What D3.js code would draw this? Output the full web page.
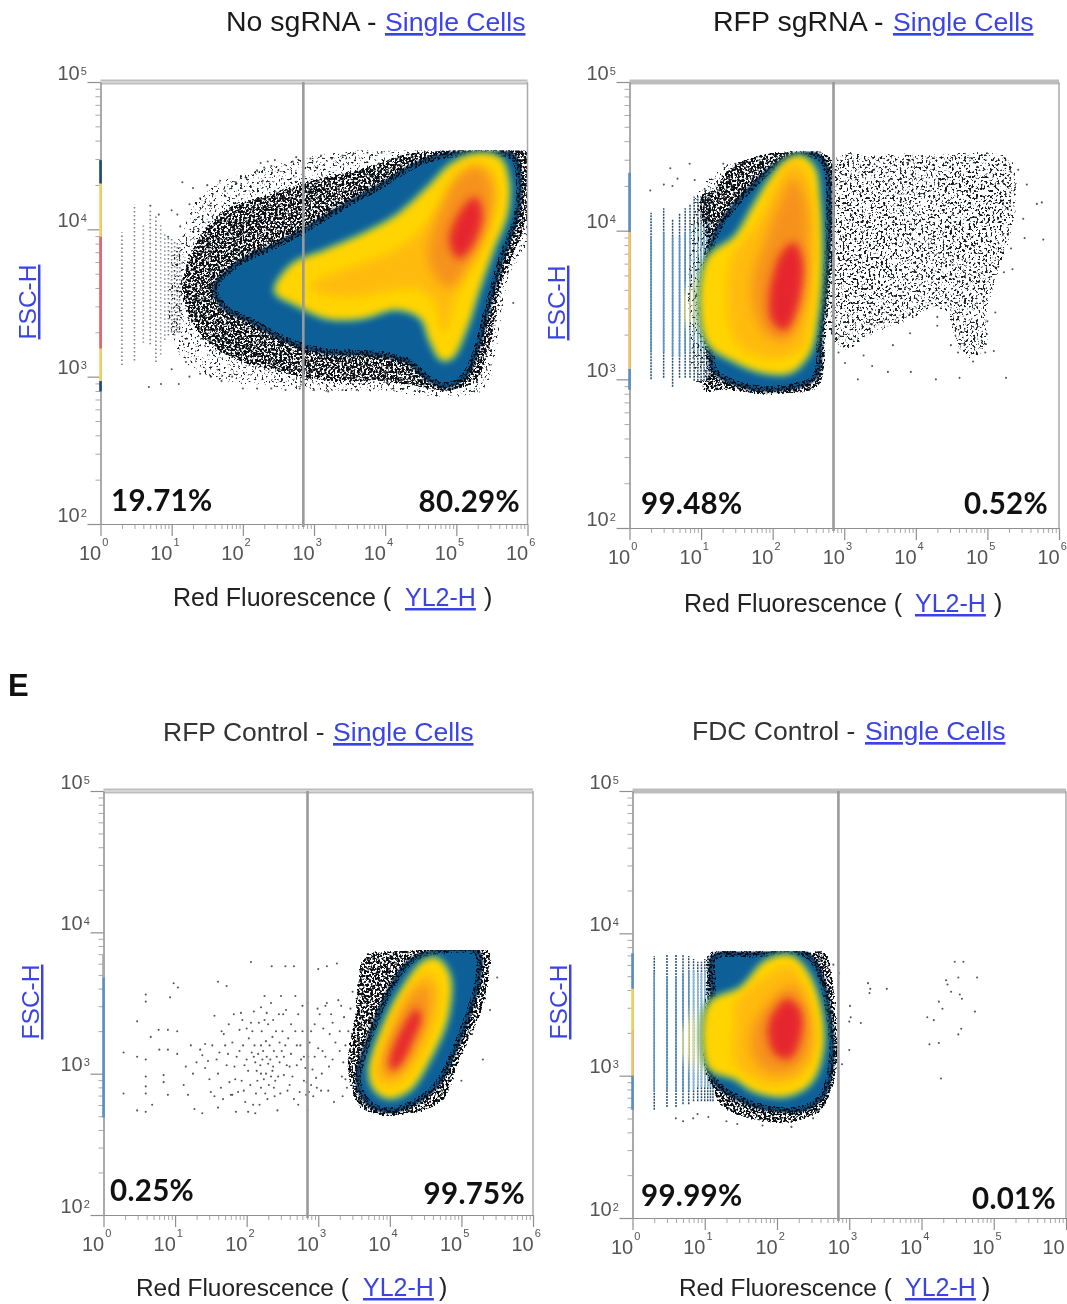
<!DOCTYPE html>
<html>
<head>
<meta charset="utf-8">
<script src="https://cdn.jsdelivr.net/npm/d3@7"></script>
<style>
html, body { margin: 0; padding: 0; background: #fff; }
svg { display: block; filter: blur(0.45px); }
text { font-family: "Liberation Sans", Arial, sans-serif; }
.pct { font-family: Lato, "Open Sans", sans-serif; font-weight: 700; font-size: 29.5px; fill: #111; letter-spacing: 0.3px; }
.link { fill: #3a44e6; text-decoration: underline; }
</style>
</head>
<body>
<svg id="chart" width="1067" height="1304"></svg>
<script>
// all cloud outlines and dots are [log10 YL2-H, log10 FSC-H]

var majorX = [0, 1, 2, 3, 4, 5, 6];
var majorY = [2, 3, 4, 5];
var gateLog = 2.85;
var ceilingLog = [4.535, 4.535, 3.875, 3.875];

// No sgRNA
var haloA = [[0.95,3.55],[1.1,3.98],[1.5,4.27],[2.3,4.42],[3.0,4.5],[3.7,4.55],[4.3,4.56],[6,4.56],[6,3.9],[5.75,3.7],[5.6,3.3],[5.4,2.9],[4.9,2.86],[3.9,2.9],[3.0,2.9],[2.3,2.94],[1.5,3.0],[1.05,3.18]];
var fringeA = [[1.15,3.57],[1.30,3.87],[1.69,4.11],[2.46,4.25],[2.95,4.33],[3.67,4.41],[4.30,4.51],[4.84,4.53],[6.0,4.53],[6.0,4.09],[5.81,3.84],[5.61,3.60],[5.47,3.21],[5.27,2.97],[4.89,2.91],[4.5,2.93],[3.92,2.97],[3.19,2.97],[2.46,3.04],[1.74,3.15],[1.35,3.32]];
var navyA = [[1.59,3.60],[1.88,3.76],[2.46,3.90],[2.85,4.0],[3.43,4.17],[3.92,4.30],[4.40,4.44],[4.84,4.51],[5.37,4.52],[5.81,4.5],[5.9,4.33],[5.86,4.09],[5.66,3.81],[5.47,3.49],[5.32,3.21],[5.13,3.0],[4.84,2.93],[4.6,2.98],[4.3,3.1],[3.82,3.15],[3.19,3.16],[2.61,3.24],[2.07,3.38],[1.74,3.46]];
var yellowA = [[2.46,3.58],[2.70,3.76],[3.14,3.85],[3.67,3.96],[4.16,4.09],[4.6,4.28],[4.93,4.44],[5.27,4.51],[5.61,4.48],[5.73,4.33],[5.71,4.11],[5.52,3.87],[5.32,3.6],[5.13,3.32],[4.93,3.13],[4.79,3.12],[4.64,3.24],[4.5,3.4],[4.16,3.46],[3.67,3.4],[3.19,3.4],[2.75,3.49]];
var amberA = [[2.95,3.61],[3.43,3.73],[3.92,3.81],[4.4,3.95],[4.84,4.2],[5.18,4.41],[5.47,4.41],[5.56,4.25],[5.37,3.92],[5.03,3.6],[4.89,3.38],[4.81,3.3],[4.69,3.51],[4.4,3.6],[3.92,3.57],[3.43,3.54]];
var orangeA = [[4.6,3.85],[4.75,4.1],[5.0,4.35],[5.3,4.43],[5.5,4.28],[5.42,4.0],[5.12,3.72],[4.9,3.6],[4.68,3.7]];
var redA = [[4.9,3.92],[5.05,4.12],[5.27,4.22],[5.37,4.1],[5.22,3.88],[5.03,3.8]];
var dotsA = [[1.08,4.1],[1.25,4.17],[1.4,4.21],[1.55,4.16],[1.68,4.33],[1.75,4.26],[1.9,4.32],[2.05,4.35],[2.2,4.4],[2.28,4.33],[2.3,4.42],[2.4,4.43],[2.5,4.4],[2.45,4.47],[2.35,4.46],[2.25,4.45],[2.7,4.46],[2.75,4.49],[2.95,4.48],[3.1,4.5],[3.25,4.48],[3.4,4.5],[3.55,4.51],[3.75,4.52],[3.95,4.52],[0.95,3.95],[1.12,4.02],[1.0,4.13],[0.82,4.1],[0.7,4.16],[1.3,4.28],[1.5,4.3],[1.15,4.32],[0.68,2.93],[0.85,2.95],[1.1,2.95],[1.25,3.0],[1.4,3.02],[1.55,3.0],[1.7,2.97],[1.85,3.0],[2.0,2.92],[2.2,2.92],[2.4,2.92],[2.6,2.91],[2.8,2.92],[3.0,2.91],[3.2,2.9],[3.4,2.91],[3.6,2.91],[1.2,3.1],[1.0,3.05],[5.8,3.5],[5.55,3.38],[5.62,3.75]];
var columnsA = [[2,3.08,3.98],[3,3.11,4.17],[4,3.23,4.03],[5,3.22,4.14],[6,3.1,4.09],[7,3.15,4.03],[8,3.25,3.98],[9,3.28,3.95],[10,3.3,3.95],[11,3.28,3.93],[12,3.3,3.92],[13,3.3,3.9]];
var edgeA = [[4.31,4.47,"dark"],[3.95,4.31,"yellow"],[3.19,3.95,"red"],[2.97,3.19,"yellow"],[2.9,2.97,"dark"]];

// RFP sgRNA
var haloB = [[0.95,4.28],[1.2,4.4],[1.6,4.5],[1.6,4.2],[1.2,3.9],[1.2,3.0],[0.95,2.93]];
var fringeB = [[1.0,4.25],[1.17,4.26],[1.39,4.42],[1.86,4.51],[2.34,4.53],[2.82,4.49],[2.86,4.34],[2.82,4.04],[2.77,3.66],[2.72,3.26],[2.63,2.95],[1.96,2.91],[1.29,2.93],[1.0,2.92],[1.17,3.1],[1.17,3.7]];
var navyB = [[1.12,3.88],[1.29,4.07],[1.58,4.24],[1.96,4.42],[2.29,4.51],[2.63,4.51],[2.77,4.42],[2.8,4.04],[2.75,3.66],[2.68,3.31],[2.6,3.01],[2.1,2.93],[1.58,2.95],[1.18,3.05],[1.12,3.18]];
var yellowB = [[1.08,3.8],[1.48,3.96],[1.72,4.15],[1.96,4.34],[2.2,4.47],[2.39,4.5],[2.58,4.42],[2.65,4.2],[2.68,3.8],[2.63,3.45],[2.51,3.18],[2.25,3.05],[1.86,3.05],[1.48,3.12],[1.08,3.26]];
var amberB = [[1.43,3.82],[1.77,4.04],[2.01,4.28],[2.25,4.45],[2.44,4.42],[2.56,4.2],[2.58,3.8],[2.53,3.45],[2.39,3.2],[2.06,3.14],[1.67,3.18],[1.43,3.31]];
var orangeB = [[1.72,3.66],[1.91,3.96],[2.1,4.2],[2.29,4.36],[2.46,4.2],[2.49,3.82],[2.39,3.45],[2.2,3.26],[1.96,3.28],[1.77,3.42]];
var redB = [[1.95,3.55],[2.12,3.85],[2.3,3.92],[2.42,3.8],[2.36,3.5],[2.18,3.33],[2.0,3.38]];
var cloudB = [[2.84,4.5],[3.39,4.51],[4.35,4.51],[5.31,4.5],[5.4,4.2],[5.31,3.93],[5.11,3.66],[4.97,3.42],[5.02,3.23],[4.73,3.12],[4.54,3.26],[4.4,3.5],[3.87,3.39],[3.39,3.31],[2.92,3.18]];
var clusterB1 = [[4.4,4.42],[5.1,4.35],[5.25,4.1],[5.1,3.85],[4.6,3.8],[4.3,4.05]];
var clusterB2 = [[2.9,4.3],[3.6,4.2],[3.8,3.85],[3.45,3.5],[3.1,3.38],[2.9,3.5]];
var dotsB = [[3.19,3.0],[3.61,3.05],[3.93,3.05],[4.28,3.0],[4.61,3.01],[5.26,3.01],[4.8,3.12],[4.97,3.18],[5.09,3.19],[4.59,3.18],[4.68,3.23],[4.49,3.23],[4.3,3.36],[4.3,3.42],[3.92,3.31],[3.68,3.23],[3.39,3.09],[3.27,3.16],[3.01,3.11],[2.92,3.18],[5.55,4.31],[5.69,4.18],[5.76,4.19],[5.78,3.94],[5.5,4.08],[5.52,3.95],[5.43,4.41],[5.33,3.88],[5.35,3.74],[5.23,3.72],[5.11,3.45],[5.0,3.39],[0.57,4.42],[0.84,4.45],[0.29,4.27],[0.48,4.31],[0.6,4.3],[0.67,4.35],[0.91,4.34],[1.05,4.28],[1.31,4.45],[1.48,4.45]];
var columnsB = [[2,3.0,4.12,3.18,3.96],[3,3.01,4.15,3.18,3.99],[4,2.95,4.08,3.15,3.96],[5,3.01,4.12,3.15,3.96],[6,3.01,4.15,3.18,3.99,3.31,3.66],[7,3.01,4.18,3.18,4.0,3.31,3.7],[8,2.99,4.23,3.18,4.04,3.28,3.77],[9,2.99,4.23,3.18,4.04,3.28,3.77],[10,2.99,4.23,3.18,4.04,3.28,3.77],[11,2.99,4.23,3.18,4.04,3.28,3.77],[12,2.99,4.23,3.18,4.04,3.28,3.77],[13,2.99,4.23,3.18,4.04,3.28,3.77]];
var edgeB = [[3.99,4.39,"blue"],[3.07,3.99,"amber"],[2.93,3.07,"blue"]];

// RFP Control
var fringeC = [[3.65,3.84],[3.99,3.86],[4.56,3.88],[5.38,3.87],[5.38,3.69],[5.29,3.46],[4.95,3.08],[4.76,2.82],[4.42,2.73],[3.99,2.71],[3.605,2.75],[3.46,2.91],[3.41,3.11],[3.51,3.37],[3.55,3.6]];
var navyC = [[3.55,3.02],[3.7,3.26],[3.94,3.55],[4.23,3.78],[4.52,3.86],[5.24,3.86],[5.26,3.69],[5.14,3.46],[4.9,3.14],[4.66,2.91],[4.32,2.78],[3.99,2.73],[3.7,2.78],[3.55,2.91]];
var yellowC = [[3.72,3.02],[3.89,3.31],[4.18,3.6],[4.47,3.79],[4.66,3.81],[4.83,3.69],[4.8,3.4],[4.56,3.11],[4.28,2.89],[3.99,2.83],[3.79,2.89]];
var amberC = [[3.79,3.02],[3.99,3.31],[4.23,3.57],[4.52,3.72],[4.68,3.63],[4.66,3.43],[4.44,3.14],[4.18,2.95],[3.94,2.91],[3.82,2.95]];
var orangeC = [[3.91,3.08],[4.08,3.34],[4.32,3.57],[4.52,3.63],[4.56,3.49],[4.44,3.28],[4.23,3.08],[4.03,2.98],[3.92,3.0]];
var redC = [[3.99,3.08],[4.16,3.31],[4.37,3.46],[4.44,3.4],[4.32,3.23],[4.16,3.07],[4.03,3.02]];
var dotsC = [[0.59,3.56],[0.59,3.51],[0.47,3.37],[0.28,3.15],[0.47,3.12],[0.59,3.1],[0.28,2.86],[0.59,2.98],[0.59,2.91],[0.59,2.86],[0.47,2.74],[0.59,2.73],[0.68,2.78],[0.84,2.99],[0.84,2.94],[0.9,2.85],[0.66,3.26],[0.77,3.31],[0.93,3.54],[0.98,3.64],[1.04,3.61],[0.9,3.31],[1.03,3.3],[0.78,3.17],[0.9,3.17],[1.03,3.14],
[1.12,2.92],[1.18,2.85],[1.25,3.0],[1.3,3.08],[1.22,3.2],[1.15,3.05],[1.27,2.75],[1.38,2.72],[1.42,3.21],[1.38,3.13],[1.42,3.04],[1.48,2.96],[1.5,2.87],[1.55,2.84],[1.6,2.76],[1.62,3.15],[1.65,3.3],[1.55,3.41],[1.6,3.65],[1.72,3.62],[1.68,3.28],[1.7,3.2],[1.72,3.06],[1.76,2.94],[1.8,2.85],[1.85,2.73],[1.78,2.85],[1.86,3.12],[1.9,3.31],[1.82,3.42],[1.92,3.43],[2.0,3.32],[1.95,3.2],[1.97,3.06],[1.93,2.95],[1.98,2.8],[2.02,2.73],[2.06,3.79],[2.06,3.36],[2.1,3.44],[2.07,3.15],[2.1,3.12],[2.12,3.08],[2.14,3.02],[2.15,2.95],[2.13,2.86],[2.12,2.72],[2.18,2.78],[2.2,2.9],[2.2,3.0],[2.22,3.1],[2.2,3.2],[2.21,3.3],[2.2,3.47],[2.25,3.55],[2.28,3.43],[2.3,3.35],[2.27,3.23],[2.3,3.07],[2.27,3.0],[2.31,2.92],[2.29,2.82],[2.35,3.76],[2.34,3.5],[2.37,3.38],[2.36,3.26],[2.38,3.16],[2.36,3.02],[2.4,2.95],[2.39,2.84],[2.43,2.74],[2.46,3.08],[2.46,3.22],[2.45,3.42],[2.48,3.55],[2.5,3.3],[2.52,3.12],[2.52,2.99],[2.54,3.76],[2.55,3.45],[2.58,3.25],[2.6,3.05],[2.6,2.92],[2.62,3.35],[2.66,3.76],[2.68,3.55],[2.7,3.2],[2.7,3.06],[2.72,2.78],[2.74,2.87],[2.78,3.48],[2.78,3.3],[2.76,3.1],[2.8,2.95],[2.83,2.85],[2.86,3.12],[2.88,3.22],[2.85,3.5],[2.85,2.74],[2.9,2.92],[2.92,3.03],[2.95,3.35],[2.98,2.9],[3.0,3.74],[3.0,3.18],[3.02,3.42],[3.04,2.88],[3.07,3.32],[3.1,3.12],[3.12,3.76],[3.12,3.5],[3.14,2.88],[3.16,3.28],[3.18,3.42],[3.2,3.1],[3.22,2.8],[3.26,3.78],[3.28,3.52],[3.3,3.16],[3.33,2.98],[3.36,3.4],[3.38,3.2],[3.4,2.9],[5.0,2.95],[5.15,3.28],[5.3,3.1],[5.4,3.45],[5.5,3.68],
[1.35,3.17],[1.46,3.09],[1.52,3.2],[1.58,3.1],[1.6,3.0],[1.64,2.9],[1.67,2.82],[1.74,3.14],[1.75,3.35],[1.8,3.22],[1.83,3.05],[1.84,2.96],[1.88,2.87],[1.9,3.16],[1.94,3.38],[1.96,2.88],[2.0,3.1],[2.02,3.02],[2.03,3.25],[2.05,2.92],[2.08,3.3],[2.09,2.78],[2.11,3.2],[2.16,3.14],[2.17,3.36],[2.19,3.06],[2.23,3.16],[2.24,2.96],[2.25,3.38],[2.26,2.86],[2.28,3.12],[2.32,3.2],[2.33,3.1],[2.34,2.98],[2.37,3.05],[2.38,2.9],[2.41,3.3],[2.42,3.12],[2.44,2.98],[2.47,2.86],[2.49,3.16],[2.51,3.42],[2.54,3.2],[2.56,3.06],[2.57,2.88],[2.62,3.14],[2.64,2.98],[2.66,2.82],[2.68,3.3],[2.72,3.42],[2.75,3.2],[2.8,3.12],[2.82,3.04],[2.84,2.94],[2.87,2.87],[2.9,3.3],[2.93,2.84],[2.95,3.12],[2.97,2.97],[2.99,3.46],[3.05,3.0],[3.06,3.16],[3.1,3.48],[3.15,3.05],[3.2,3.36],[3.24,3.22],[3.3,3.3],[3.32,3.48],[3.35,3.08],[3.42,3.3],[3.45,3.46],[3.38,2.96],[3.34,2.84],[3.48,3.58]];
var edgeC = [[3.68,3.84,"faint"],[2.69,3.68,"blue"]];

// FDC Control
var fringeD = [[1.13,3.84],[1.65,3.88],[2.65,3.87],[2.75,3.73],[2.82,3.32],[2.79,2.98],[2.6,2.75],[2.13,2.67],[1.61,2.7],[1.23,2.79],[1.13,2.89]];
var navyD = [[1.1,3.61],[1.12,3.84],[1.65,3.86],[2.41,3.86],[2.6,3.73],[2.75,3.38],[2.77,3.09],[2.65,2.86],[2.37,2.76],[1.89,2.76],[1.51,2.82],[1.1,2.98]];
var yellowD = [[1.06,3.5],[1.51,3.62],[1.84,3.8],[2.18,3.84],[2.41,3.73],[2.6,3.47],[2.63,3.18],[2.46,2.95],[2.13,2.86],[1.7,2.89],[1.42,2.98],[1.06,3.06]];
var amberD = [[1.42,3.38],[1.42,3.5],[1.84,3.7],[2.18,3.77],[2.37,3.64],[2.51,3.41],[2.51,3.15],[2.32,2.99],[1.99,2.93],[1.65,2.98],[1.42,3.09]];
var orangeD = [[1.65,3.32],[1.89,3.52],[2.22,3.64],[2.41,3.47],[2.44,3.18],[2.22,3.03],[1.89,3.02],[1.68,3.12]];
var redD = [[1.89,3.38],[2.13,3.54],[2.32,3.47],[2.34,3.29],[2.18,3.12],[1.99,3.14],[1.89,3.24]];
var dotsD = [[3.01,3.49],[3.02,3.41],[3.0,3.38],[3.16,3.37],[3.0,3.18],[2.9,3.08],[3.26,3.65],[3.29,3.61],[3.28,3.58],[3.52,3.61],[4.08,3.41],[4.17,3.39],[4.11,3.22],[4.24,3.23],[4.27,2.98],[4.24,3.52],[4.29,3.47],[4.34,3.67],[4.36,3.64],[4.41,3.59],[4.46,3.8],[4.58,3.8],[4.51,3.69],[4.77,3.69],[4.53,3.57],[4.56,3.54],[4.74,3.45],[4.55,3.33],[4.51,3.29],[0.6,2.7],[0.7,2.68],[0.84,2.7],[0.9,2.73],[1.05,2.71],[1.3,2.68],[1.45,2.66],[1.8,2.65],[2.2,2.64],[2.5,2.7],[2.78,3.78],[2.86,3.72]];
var columnsD = [[2,2.76,3.84,2.89,3.73],[3,2.78,3.85,2.89,3.7],[4,2.78,3.85,2.89,3.7],[5,2.8,3.85,2.89,3.72,3.05,3.4],[6,2.8,3.84,2.89,3.74,3.0,3.5],[7,2.82,3.82,2.9,3.74,3.0,3.5],[8,2.82,3.8,2.92,3.72,2.98,3.5],[9,2.82,3.8,2.92,3.72,2.98,3.5],[10,2.82,3.82,2.92,3.74,2.98,3.5],[11,2.82,3.84,2.92,3.74,2.98,3.5],[12,2.82,3.84,2.92,3.74,2.98,3.5],[13,2.82,3.84,2.92,3.74,2.98,3.5]];
var edgeD = [[3.61,3.86,"blue"],[3.32,3.61,"yellow"],[3.0,3.32,"amber"],[2.76,3.0,"blue"]];

var titles = ["No sgRNA - ", "RFP sgRNA - ", "RFP Control - ", "FDC Control - "];
var leftPct = ["19.71%", "99.48%", "0.25%", "99.99%"];
var rightPct = ["80.29%", "0.52%", "99.75%", "0.01%"];

var palette = {
    navy: "#105f98", rim: "#0a2f55", teal: "#3f9c88", yellow: "#ffd400", amber: "#ffbb0c", orange: "#f6921a", red: "#e6262f",
    dark: "#1b4468", blue: "#5a93c6", light: "#86b6da", tint: "#efe27c"
};
var edgeColors = { dark: "#1b4a70", blue: "#5a90c2", faint: "#a8a8a8", yellow: "#f3d25f", amber: "#f3c06e", red: "#e8606a" };

// frame of each panel on the page, and where its loose texts sit
var panels = [
    { left: 100.5, right: 527.5, top: 82, bottom: 524, halo: haloA, fringe: fringeA, navy: navyA, yellow: yellowA, amber: amberA, orange: orangeA, red: redA, dots: dotsA, columns: columnsA, edge: edgeA,
      sparse: true, titleX: 226, titleY: 31, titleSize: 28.5, linkX: 385, tColor: "#1a1a1a", labelX: 173, labelY: 606, labelSize: 25, yl2X: 405, closeX: 484, fscX: 36, fscY: 302, leftX: 111, leftY: 511, rightX: 520, rightY: 512 },
    { left: 629.5, right: 1059, top: 82, bottom: 528, halo: haloB, fringe: fringeB, navy: navyB, yellow: yellowB, amber: amberB, orange: orangeB, red: redB, dots: dotsB, columns: columnsB, edge: edgeB,
      cloud: cloudB, clusters: [clusterB1, clusterB2], titleX: 713, titleY: 31, titleSize: 28.5, linkX: 893, tColor: "#1a1a1a", labelX: 684, labelY: 612, labelSize: 25, yl2X: 915, closeX: 994, fscX: 565, fscY: 303, leftX: 641, leftY: 514, rightX: 1048, rightY: 514 },
    { left: 103.5, right: 533, top: 791, bottom: 1215, fringe: fringeC, navy: navyC, yellow: yellowC, amber: amberC, orange: orangeC, red: redC, dots: dotsC, columns: [], edge: edgeC,
      titleX: 163, titleY: 741, titleSize: 26.5, linkX: 333, tColor: "#333", labelX: 136, labelY: 1296, labelSize: 24.4, yl2X: 363, closeX: 439, fscX: 39, fscY: 1002, leftX: 110, leftY: 1201, rightX: 525, rightY: 1204 },
    { left: 632.5, right: 1066, top: 791, bottom: 1218, fringe: fringeD, navy: navyD, yellow: yellowD, amber: amberD, orange: orangeD, red: redD, dots: dotsD, columns: columnsD, edge: edgeD,
      titleX: 692, titleY: 740, titleSize: 26.5, linkX: 865, tColor: "#333", labelX: 679, labelY: 1296, labelSize: 24.4, yl2X: 905, closeX: 982, fscX: 567, fscY: 1002, leftX: 641, leftY: 1206, rightX: 1056, rightY: 1209 }
];

var svg = d3.select("#chart");
var defs = svg.append("defs");

// speckle textures stand in for the dense dot fringe, density fades out at the outline
function addSpeckle(id, color, thresh, freq, fade) {
    var gain = 10;
    var f = defs.append("filter").attr("id", id)
        .attr("x", "-15%").attr("y", "-15%").attr("width", "130%").attr("height", "130%")
        .attr("color-interpolation-filters", "sRGB");
    f.append("feGaussianBlur").attr("in", "SourceAlpha").attr("stdDeviation", fade).attr("result", "b0");
    f.append("feColorMatrix").attr("in", "b0").attr("type", "matrix")
        .attr("values", "0 0 0 0 0  0 0 0 0 0  0 0 0 0 0  0 0 0 1.8 0").attr("result", "b");
    f.append("feTurbulence").attr("type", "fractalNoise").attr("baseFrequency", freq)
        .attr("numOctaves", 2).attr("seed", 4).attr("result", "n");
    f.append("feColorMatrix").attr("in", "n").attr("type", "matrix")
        .attr("values", "0 0 0 0 0  0 0 0 0 0  0 0 0 0 0  1 0 0 0 0").attr("result", "m");
    // noise is gated by the blurred outline, so nothing shows outside the shape
    f.append("feComposite").attr("in", "m").attr("in2", "b").attr("operator", "arithmetic")
        .attr("k1", gain).attr("k2", 0).attr("k3", gain * 0.4).attr("k4", -gain * (thresh + 0.4)).attr("result", "a");
    f.append("feFlood").attr("flood-color", color).attr("result", "c");
    f.append("feComposite").attr("in", "c").attr("in2", "a").attr("operator", "in").attr("result", "d");
    f.append("feGaussianBlur").attr("in", "d").attr("stdDeviation", 0.3);
}
addSpeckle("speckFringe", "#0c0f14", 0.43, 0.45, 4);
addSpeckle("speckRim", "#071018", 0.47, 0.45, 1.5);
addSpeckle("speckCloud", "#1c2027", 0.55, 0.42, 9);
addSpeckle("speckCluster", "#14171d", 0.57, 0.42, 9);
addSpeckle("speckHalo", "#20242c", 0.59, 0.42, 9);

[1.2, 3, 4, 6].forEach(function (s) {
    defs.append("filter").attr("id", "soft" + String(s).replace(".", ""))
        .attr("x", "-25%").attr("y", "-25%").attr("width", "150%").attr("height", "150%")
        .append("feGaussianBlur").attr("stdDeviation", s);
});

function minorsOf(lo, hi) {
    var list = [];
    for (var k = lo; k < hi; k++) {
        for (var m = 2; m < 10; m++) list.push(m * Math.pow(10, k));
    }
    return list;
}

function drawPanel(p, i) {
    var x = d3.scaleLog().domain([1, 1e6]).range([p.left, p.right]);
    var y = d3.scaleLog().domain([100, 1e5]).range([p.bottom, p.top]);
    var g = svg.append("g");
    var ceilY = y(Math.pow(10, ceilingLog[i]));

    var clipId = "clip" + i;
    defs.append("clipPath").attr("id", clipId).append("rect")
        .attr("x", p.left).attr("y", ceilY).attr("width", p.right - p.left).attr("height", p.bottom - ceilY);

    var line = d3.line()
        .x(function (d) { return x(Math.pow(10, d[0])); })
        .y(function (d) { return y(Math.pow(10, d[1])); })
        .curve(d3.curveCatmullRomClosed.alpha(0.5));

    var plot = g.append("g").attr("clip-path", "url(#" + clipId + ")");

    // low channels sit on discrete integer columns
    var cols = plot.append("g");
    p.columns.forEach(function (c, n) {
        var cx = x(c[0]);
        function seg(lo, hi, color, w, dash, op) {
            cols.append("line").attr("x1", cx).attr("x2", cx + 0.01).attr("y1", y(Math.pow(10, lo))).attr("y2", y(Math.pow(10, hi)))
                .attr("stroke", color).attr("stroke-width", w).attr("stroke-dasharray", dash).attr("opacity", op);
        }
        if (c.length === 3) {
            seg(c[1], c[2], "#444c55", 1.6, "1.4 2.6", 0.7);
        } else {
            seg(c[1], c[2], palette.dark, 1.5, "2 1", 0.95);
            seg(c[3], c[4], c[0] >= 7 ? palette.light : palette.blue, 1.5, null, 1);
            if (c.length > 5) {
                var gid = "tint" + i + "_" + n;
                var yA = y(Math.pow(10, c[6])), yB = y(Math.pow(10, c[5]));
                var grad = defs.append("linearGradient").attr("id", gid).attr("gradientUnits", "userSpaceOnUse")
                    .attr("x1", 0).attr("x2", 0).attr("y1", yA).attr("y2", yB);
                [[0, 0], [0.3, 1], [0.7, 1], [1, 0]].forEach(function (s) {
                    grad.append("stop").attr("offset", s[0]).attr("stop-color", palette.tint).attr("stop-opacity", s[1]);
                });
                seg(c[5], c[6], "url(#" + gid + ")", 1.5, null, 0.9);
            }
        }
    });

    if (p.cloud) {
        plot.append("path").attr("d", line(p.cloud)).attr("fill", "#000").attr("filter", "url(#speckCloud)");
        p.clusters.forEach(function (c) {
            plot.append("path").attr("d", line(c)).attr("fill", "#000").attr("filter", "url(#speckCluster)");
        });
    }
    if (p.halo) {
        plot.append("path").attr("d", line(p.halo)).attr("fill", "#000").attr("filter", "url(#speckHalo)");
    }
    plot.append("path").attr("d", line(p.fringe)).attr("fill", "#000").attr("filter", "url(#speckFringe)");

    plot.append("path").attr("d", line(p.navy)).attr("fill", palette.navy)
        .attr("stroke", palette.rim).attr("stroke-width", 3).attr("filter", "url(#soft12)");
    plot.append("path").attr("d", line(p.navy)).attr("fill", "none")
        .attr("stroke", "#000").attr("stroke-width", 9).attr("filter", "url(#speckRim)");

    plot.append("path").attr("d", line(p.yellow)).attr("fill", palette.teal)
        .attr("stroke", palette.teal).attr("stroke-width", 7).attr("filter", "url(#soft3)");
    plot.append("path").attr("d", line(p.yellow)).attr("fill", palette.yellow).attr("filter", "url(#soft3)");
    plot.append("path").attr("d", line(p.amber)).attr("fill", palette.amber).attr("filter", "url(#soft4)");
    plot.append("path").attr("d", line(p.orange)).attr("fill", palette.orange).attr("filter", "url(#soft6)");
    plot.append("path").attr("d", line(p.red)).attr("fill", palette.red).attr("filter", "url(#soft4)");

    plot.selectAll("circle.dot").data(p.dots).enter().append("circle").attr("class", "dot")
        .attr("cx", function (d) { return x(Math.pow(10, d[0])); })
        .attr("cy", function (d) { return y(Math.pow(10, d[1])); })
        .attr("r", 1.05).attr("fill", "#2a2f36").attr("opacity", 0.8);

    // frame
    g.append("line").attr("x1", p.left).attr("x2", p.right).attr("y1", p.top).attr("y2", p.top)
        .attr("stroke", "#bdbdbd").attr("stroke-width", 5);
    if (p.sparse || i === 2) {
        g.append("line").attr("x1", p.left).attr("x2", p.right).attr("y1", p.top).attr("y2", p.top)
            .attr("stroke", "#eeeeee").attr("stroke-width", 1.2);
    }
    g.append("line").attr("x1", p.right).attr("x2", p.right).attr("y1", p.top).attr("y2", p.bottom)
        .attr("stroke", "#aaaaaa").attr("stroke-width", 1.5);

    // axes
    function styleAxis(a, color, w) {
        a.selectAll("path, line").attr("stroke", color).attr("stroke-width", w);
    }
    g.append("g").attr("transform", "translate(0," + p.bottom + ")")
        .call(d3.axisBottom(x).tickValues(minorsOf(0, 6)).tickSize(5).tickSizeOuter(0).tickFormat(""))
        .call(styleAxis, "#a8a8a8", 1);
    g.append("g").attr("transform", "translate(" + p.left + ",0)")
        .call(d3.axisLeft(y).tickValues(minorsOf(2, 5)).tickSize(5).tickSizeOuter(0).tickFormat(""))
        .call(styleAxis, "#a8a8a8", 1);

    var xMajor = g.append("g").attr("transform", "translate(0," + p.bottom + ")")
        .call(d3.axisBottom(x).tickValues(majorX.map(function (k) { return Math.pow(10, k); })).tickSize(12).tickSizeOuter(0)
            .tickFormat(function () { return ""; }))
        .call(styleAxis, "#8f8f8f", 1.2);
    xMajor.selectAll(".tick").each(function (d) {
        // the last label of the FDC panel runs into the page edge, its exponent is lost there as well
        var atEdge = x(d) > 1060;
        var t = d3.select(this).append("text").attr("text-anchor", "start").attr("x", atEdge ? -24 : -22).attr("y", 36)
            .attr("fill", "#555").attr("font-size", 20).text("10");
        if (!atEdge) t.append("tspan").attr("dx", 1).attr("dy", -14).attr("font-size", 11).text(Math.round(Math.log10(d)));
    });

    var yMajor = g.append("g").attr("transform", "translate(" + p.left + ",0)")
        .call(d3.axisLeft(y).tickValues(majorY.map(function (k) { return Math.pow(10, k); })).tickSize(13).tickSizeOuter(0)
            .tickFormat(function () { return ""; }))
        .call(styleAxis, "#8f8f8f", 1.2);
    yMajor.selectAll(".tick").each(function (d) {
        var t = d3.select(this).append("text").attr("text-anchor", "start").attr("x", -43).attr("y", -3)
            .attr("fill", "#555").attr("font-size", 20).text("10");
        t.append("tspan").attr("dx", 1).attr("dy", -5).attr("font-size", 11).text(Math.round(Math.log10(d)));
    });

    // event strip on the left edge of the plot
    g.selectAll("line.edge").data(p.edge).enter().append("line").attr("class", "edge")
        .attr("x1", p.left).attr("x2", p.left)
        .attr("y1", function (d) { return y(Math.pow(10, d[0])); })
        .attr("y2", function (d) { return y(Math.pow(10, d[1])); })
        .attr("stroke", function (d) { return edgeColors[d[2]]; })
        .attr("stroke-width", 2.6);

    // gate
    g.append("line").attr("x1", x(Math.pow(10, gateLog))).attr("x2", x(Math.pow(10, gateLog)))
        .attr("y1", p.top).attr("y2", p.bottom + 3)
        .attr("stroke", "#9a9a9a").attr("stroke-width", 2.6);

    // texts
    g.append("text").attr("x", p.titleX).attr("y", p.titleY).attr("font-size", p.titleSize).attr("fill", p.tColor).text(titles[i]);
    g.append("text").attr("class", "link").attr("x", p.linkX).attr("y", p.titleY).attr("font-size", 26.6).text("Single Cells");

    g.append("text").attr("x", p.labelX).attr("y", p.labelY).attr("font-size", p.labelSize).attr("fill", "#222").text("Red Fluorescence (");
    g.append("text").attr("class", "link").attr("x", p.yl2X).attr("y", p.labelY).attr("font-size", 25).text("YL2-H");
    g.append("text").attr("x", p.closeX).attr("y", p.labelY).attr("font-size", 25).attr("fill", "#222").text(")");

    g.append("text").attr("class", "link").attr("font-size", 24.5).attr("text-anchor", "middle")
        .attr("transform", "translate(" + p.fscX + "," + p.fscY + ") rotate(-90)").text("FSC-H");

    g.append("text").attr("class", "pct").attr("x", p.leftX).attr("y", p.leftY).text(leftPct[i]);
    g.append("text").attr("class", "pct").attr("x", p.rightX).attr("y", p.rightY).attr("text-anchor", "end").text(rightPct[i]);
}

panels.forEach(drawPanel);

svg.append("text").attr("x", 8).attr("y", 696).attr("font-size", 31).attr("font-weight", 700).attr("fill", "#111").text("E");
</script>
</body>
</html>
